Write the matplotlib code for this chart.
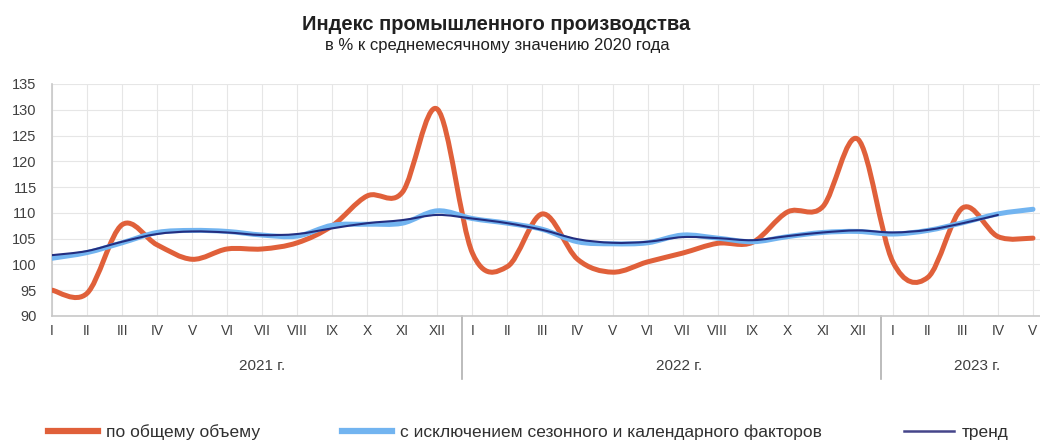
import numpy as np
import matplotlib
matplotlib.use("Agg")
import matplotlib.pyplot as plt
from matplotlib.path import Path
from matplotlib.patches import PathPatch
from matplotlib.lines import Line2D
import matplotlib.transforms as mtransforms

plt.rcParams['font.family'] = ['Liberation Sans', 'DejaVu Sans']

# ---- данные ----
months = ['I', 'II', 'III', 'IV', 'V', 'VI', 'VII', 'VIII', 'IX', 'X', 'XI', 'XII',
          'I', 'II', 'III', 'IV', 'V', 'VI', 'VII', 'VIII', 'IX', 'X', 'XI', 'XII',
          'I', 'II', 'III', 'IV', 'V']
years = ['2021 г.', '2022 г.', '2023 г.']

total = [95.0, 94.4, 107.7, 103.8, 101.0, 103.0, 103.0, 104.2, 107.5, 113.3, 114.0, 130.1,
         102.2, 99.6, 109.8, 101.0, 98.5, 100.5, 102.2, 104.1, 104.3, 110.2, 111.2, 124.3,
         100.5, 97.5, 111.0, 105.4, 105.1]
seasonal = [101.2, 102.3, 104.2, 106.2, 106.6, 106.4, 105.7, 105.5, 107.6, 107.8, 108.0, 110.4,
            108.9, 108.0, 106.8, 104.4, 104.0, 104.2, 105.7, 105.1, 104.4, 105.4, 106.2, 106.4,
            105.9, 106.6, 108.1, 109.8, 110.7]
trend = [101.8, 102.6, 104.4, 105.9, 106.4, 106.2, 105.7, 105.9, 107.0, 108.0, 108.6, 109.6,
         108.9, 108.0, 106.7, 104.9, 104.2, 104.4, 105.3, 105.1, 104.7, 105.5, 106.2, 106.6,
         106.2, 106.7, 108.0, 109.6]

C_TOTAL = '#E0603A'
C_SEAS = '#72B4F0'
C_TREND = '#232E80'


def smooth_path(y):
    """сглаженная линия как в Excel (кривые Безье через точки)"""
    x = np.arange(len(y), dtype=float)
    y = np.asarray(y, dtype=float)
    n = len(y)
    verts = [(x[0], y[0])]
    codes = [Path.MOVETO]
    for i in range(n - 1):
        p0 = (x[max(i - 1, 0)], y[max(i - 1, 0)])
        p1 = (x[i], y[i])
        p2 = (x[i + 1], y[i + 1])
        p3 = (x[min(i + 2, n - 1)], y[min(i + 2, n - 1)])
        c1 = (p1[0] + (p2[0] - p0[0]) / 6, p1[1] + (p2[1] - p0[1]) / 6)
        c2 = (p2[0] - (p3[0] - p1[0]) / 6, p2[1] - (p3[1] - p1[1]) / 6)
        verts += [c1, c2, p2]
        codes += [Path.CURVE4] * 3
    return Path(verts, codes)


fig = plt.figure(figsize=(10.4, 4.43), dpi=100)
ax = fig.add_axes([0.05, 0.2867, 0.95, 0.5237])

ax.add_patch(PathPatch(smooth_path(total), fill=False, edgecolor=C_TOTAL, lw=3.6,
                       capstyle='round', joinstyle='round', zorder=3))
ax.add_patch(PathPatch(smooth_path(seasonal), fill=False, edgecolor=C_SEAS, lw=3.6,
                       capstyle='round', joinstyle='round', zorder=4))
ax.add_patch(PathPatch(smooth_path(trend), fill=False, edgecolor=C_TREND, lw=1.5,
                       capstyle='round', joinstyle='round', zorder=5))

ax.set_xlim(0, 28.2)
ax.set_ylim(90, 135)
ax.set_yticks(np.arange(90, 136, 5))
ax.set_xticks(np.arange(len(months)))
ax.set_xticklabels(months)
ax.tick_params(axis='y', length=0, pad=11, labelsize=10.5, labelcolor='#404040')
ax.tick_params(axis='x', length=0, pad=6, labelsize=10, labelcolor='#404040')
ax.grid(True, color='#E6E6E6', lw=0.8)
ax.set_axisbelow(True)
for s in ['top', 'right']:
    ax.spines[s].set_visible(False)
for s in ['left', 'bottom']:
    ax.spines[s].set_color('#C8C8C8')
    ax.spines[s].set_linewidth(1.2)

# годы и разделители
tr = mtransforms.blended_transform_factory(ax.transData, ax.transAxes)
for xs in [11.7, 23.65]:
    ax.plot([xs, xs], [0, -0.27], transform=tr, color='#B0B0B0', lw=1.2, clip_on=False)
for xp, lab in zip([6.0, 17.9, 26.4], years):
    ax.text(xp, -0.215, lab, transform=tr, ha='center', va='center', fontsize=11, color='#404040')

fig.text(0.477, 0.945, 'Индекс промышленного производства', ha='center', va='center',
         fontsize=14.5, fontweight='bold', color='#202020')
fig.text(0.478, 0.898, 'в % к среднемесячному значению 2020 года', ha='center', va='center',
         fontsize=12, color='#202020')

handles = [Line2D([], [], color=C_TOTAL, lw=4.5),
           Line2D([], [], color=C_SEAS, lw=4.5),
           Line2D([], [], color='#45458A', lw=1.8)]
labels = ['по общему объему', 'с исключением сезонного и календарного факторов', 'тренд']
fig.legend(handles, labels, loc='center', bbox_to_anchor=(0.508, 0.025), ncol=3, frameon=False,
           fontsize=12.5, handlelength=2.9, columnspacing=4.7, handletextpad=0.45,
           labelcolor='#303030')

fig.savefig('out.png', dpi=100)
